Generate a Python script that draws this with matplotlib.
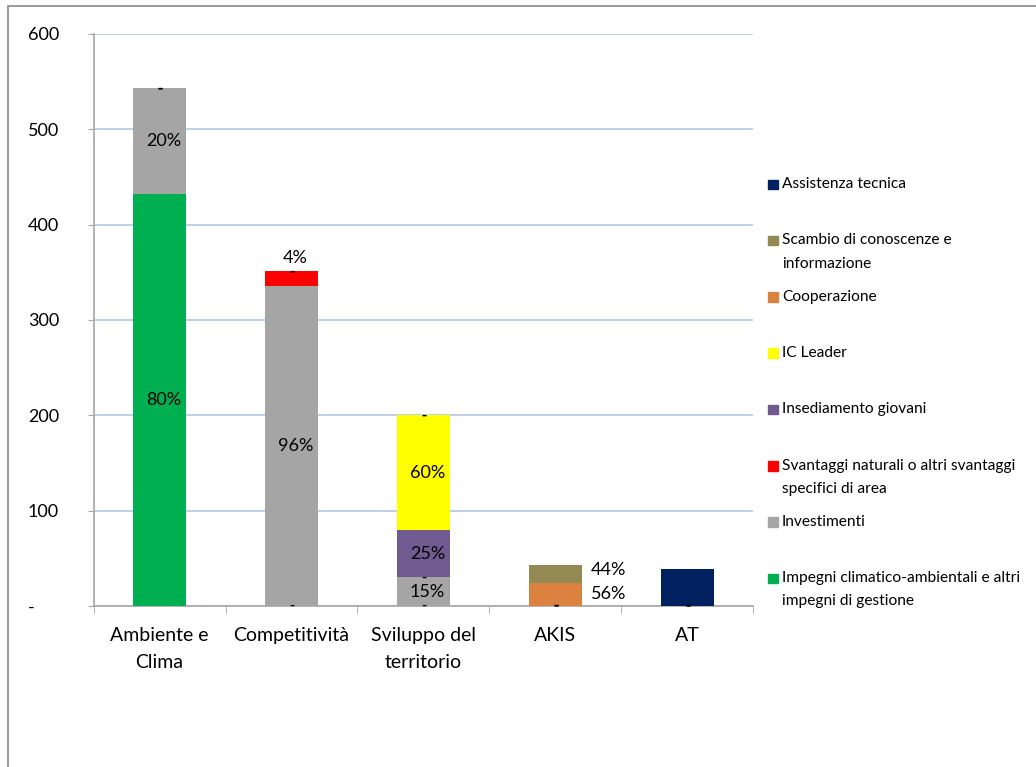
import numpy as np
import matplotlib.pyplot as plt
from matplotlib.patches import Rectangle

plt.rcParams['font.family'] = ['Lato', 'DejaVu Sans']

categorie = ["Ambiente e\nClima", "Competitività", "Sviluppo del\nterritorio", "AKIS", "AT"]

# stacked series, bottom to top
serie = [
    "Impegni climatico-ambientali e altri\nimpegni di gestione",
    "Investimenti",
    "Svantaggi naturali o altri svantaggi\nspecifici di area",
    "Insediamento giovani",
    "IC Leader",
    "Cooperazione",
    "Scambio di conoscenze e\ninformazione",
    "Assistenza tecnica",
]
impegni = [432, 0, 0, 0, 0]
investimenti = [111, 336, 30, 0, 0]
svantaggi = [0, 15, 0, 0, 0]
giovani = [0, 0, 50, 0, 0]
leader = [0, 0, 120, 0, 0]
cooperazione = [0, 0, 0, 24.5, 0]
scambio = [0, 0, 0, 19, 0]
assistenza = [0, 0, 0, 0, 39]

valori = [impegni, investimenti, svantaggi, giovani, leader, cooperazione, scambio, assistenza]
colori = ["#00b050", "#a5a5a5", "#ff0000", "#715a90", "#ffff00", "#dc8240", "#938953", "#002060"]
con_etichette = [True, True, True, True, True, True, True, False]

fig = plt.figure(figsize=(10.36, 7.67), dpi=100)
ax = fig.add_axes([93.5 / 1036, 1 - 606 / 767, (753.5 - 93.5) / 1036, (606 - 34) / 767])

x = np.arange(len(categorie))
w = 0.40
dati = np.array(valori, dtype=float)
totali = dati.sum(axis=0)
base = np.zeros(len(categorie))
lab_fs = 13

for i, vals in enumerate(dati):
    ax.bar(x, vals, w, bottom=base, color=colori[i], zorder=3)
    if con_etichette[i]:
        for j, v in enumerate(vals):
            if v == 0:
                ax.text(x[j], base[j], "-", ha="center", va="center", fontsize=10,
                        fontweight="bold", zorder=4)
            elif categorie[j] == "AKIS":
                ax.text(x[j] + w / 2 + 0.07, base[j] + v / 2 + (4 if i == 6 else 0),
                        "{:.0%}".format(v / totali[j]), ha="left", va="center",
                        fontsize=lab_fs, zorder=4)
            elif v < 20:
                ax.text(x[j] + 0.03, base[j] + v + 6, "{:.0%}".format(v / totali[j]),
                        ha="center", va="bottom", fontsize=lab_fs, zorder=4)
            else:
                ax.text(x[j] + 0.03, base[j] + v / 2, "{:.0%}".format(v / totali[j]),
                        ha="center", va="center", fontsize=lab_fs, zorder=4)
    base += vals

ax.set_xlim(-0.5, len(categorie) - 0.5)
ax.set_ylim(0, 600)
ax.set_yticks(np.arange(0, 601, 100))
ax.set_yticklabels(["-"] + [str(v) for v in range(100, 601, 100)])
for t in ax.get_yticklabels():
    t.set_horizontalalignment("left")
ax.tick_params(axis="y", length=4.3, color="#a6a6a6", pad=43, labelsize=13)
ax.yaxis.grid(True, color="#b4c7e7", linewidth=1.2, zorder=0)
ax.set_axisbelow(True)

ax.set_xticks(x)
ax.set_xticklabels(categorie, fontsize=14, linespacing=1.75)
ax.set_xticks(np.arange(-0.5, len(categorie)), minor=True)
ax.tick_params(axis="x", which="major", length=0, pad=15)
ax.tick_params(axis="x", which="minor", length=5, color="#a6a6a6")

for s in ["top", "right"]:
    ax.spines[s].set_visible(False)
for s in ["left", "bottom"]:
    ax.spines[s].set_color("#a6a6a6")
    ax.spines[s].set_linewidth(1.2)

# legend, reversed order, evenly spaced as in the source chart
passo = 56.3
for k, i in enumerate(reversed(range(len(serie)))):
    yp = 184.5 + k * passo
    fig.patches.append(Rectangle((768 / 1036, 1 - (yp + 4.5) / 767), 9.5 / 1036, 9.5 / 767,
                                 transform=fig.transFigure, color=colori[i]))
    fig.text(782 / 1036, 1 - (yp - 7.5) / 767, serie[i], ha="left", va="top",
             fontsize=11.2, linespacing=1.85)

# outer chart frame
fig.patches.append(Rectangle((8 / 1036, -0.1), 1.2, 1.1 - 6 / 767, transform=fig.transFigure,
                             fill=False, edgecolor="#898989", linewidth=1.2))

fig.savefig("out.png", dpi=100)
